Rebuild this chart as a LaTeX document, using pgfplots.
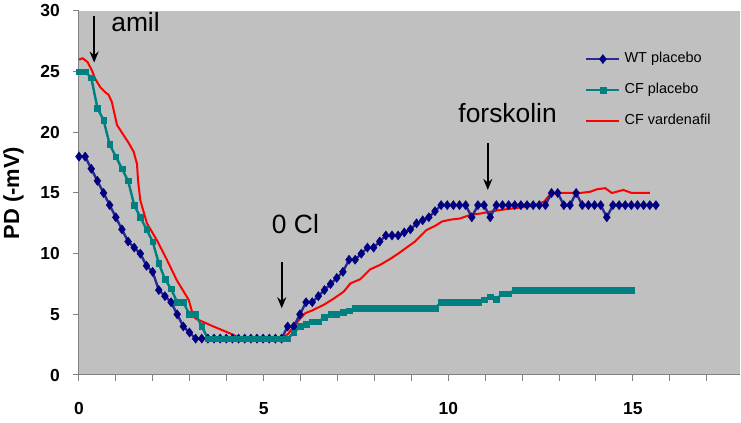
\documentclass[border=0pt]{standalone}
\usepackage{fontspec}
\setmainfont{Liberation Sans}
\usepackage{pgfplots}
\usepackage{pgfplotstable}
\pgfplotsset{compat=1.18}
\usetikzlibrary{arrows.meta}
\definecolor{bggray}{HTML}{C0C0C0}
\definecolor{navyc}{HTML}{000080}
\definecolor{navyl}{HTML}{2A2A90}
\definecolor{tealc}{HTML}{008080}
\definecolor{axgray}{HTML}{808080}

\pgfplotstableread{
x y
0.000 18
0.166 18
0.332 17
0.499 16
0.665 15
0.831 14
0.997 13
1.163 12
1.330 11
1.496 10.5
1.662 10
1.828 9
1.994 8.5
2.161 7
2.327 6.5
2.493 6
2.659 5
2.825 4
2.992 3.5
3.158 3
3.324 3
3.490 3
3.656 3
3.823 3
3.989 3
4.155 3
4.321 3
4.487 3
4.654 3
4.820 3
4.986 3
5.152 3
5.318 3
5.485 3
5.651 4
5.817 4
5.983 5
6.149 6
6.316 6
6.482 6.5
6.648 7
6.814 7.5
6.980 8
7.147 8.5
7.313 9.5
7.479 9.5
7.645 10
7.811 10.5
7.978 10.5
8.144 11
8.310 11.5
8.476 11.5
8.642 11.5
8.809 11.75
8.975 12
9.141 12.5
9.307 12.75
9.473 13
9.640 13.5
9.806 14
9.972 14
10.138 14
10.304 14
10.471 14
10.637 13
10.803 14
10.969 14
11.135 13
11.302 14
11.468 14
11.634 14
11.800 14
11.966 14
12.133 14
12.299 14
12.465 14
12.631 14
12.797 15
12.964 15
13.130 14
13.296 14
13.462 15
13.628 14
13.795 14
13.961 14
14.127 14
14.293 13
14.459 14
14.626 14
14.792 14
14.958 14
15.124 14
15.290 14
15.457 14
15.623 14
}\wtdata

\pgfplotstableread{
x y
0.000 25
0.166 25
0.332 24.5
0.499 22
0.665 21
0.831 19
0.997 18
1.163 17
1.330 16
1.496 14
1.662 13
1.828 12
1.994 11
2.161 9.2
2.327 7.9
2.493 7.1
2.659 6
2.825 6
2.992 5
3.158 5
3.324 4
3.490 3
3.656 3
3.823 3
3.989 3
4.155 3
4.321 3
4.487 3
4.654 3
4.820 3
4.986 3
5.152 3
5.318 3
5.485 3
5.651 3
5.817 3.5
5.983 4
6.149 4.2
6.316 4.4
6.482 4.4
6.648 4.75
6.814 5
6.980 5
7.147 5.2
7.313 5.3
7.479 5.5
7.645 5.5
7.811 5.5
7.978 5.5
8.144 5.5
8.310 5.5
8.476 5.5
8.642 5.5
8.809 5.5
8.975 5.5
9.141 5.5
9.307 5.5
9.473 5.5
9.640 5.5
9.806 6
9.972 6
10.138 6
10.304 6
10.471 6
10.637 6
10.803 6
10.969 6.2
11.135 6.45
11.302 6.25
11.468 6.7
11.634 6.7
11.800 7
11.966 7
12.133 7
12.299 7
12.465 7
12.631 7
12.797 7
12.964 7
13.130 7
13.296 7
13.462 7
13.628 7
13.795 7
13.961 7
14.127 7
14.293 7
14.459 7
14.626 7
14.792 7
14.958 7
}\cfpdata

\pgfplotstableread{
x y
0 26.0
0.1 26.1
0.23 25.8
0.35 25.1
0.44 24.4
0.58 23.7
0.71 23.3
0.8 23.1
0.89 22.5
1.03 20.6
1.2 19.8
1.34 19.15
1.48 18.4
1.57 17.4
1.6 16
1.66 14.4
1.84 12.5
2.11 11.1
2.38 9.5
2.65 7.8
2.97 6.2
3.1 4.8
3.19 4.6
3.64 4.0
4.19 3.3
4.37 3.0
5.0 3.0
5.49 3.0
5.67 3.4
5.81 4.0
5.99 4.65
6.13 5.1
6.3 5.3
6.62 5.77
6.9 6.3
7.17 6.87
7.35 7.55
7.62 7.9
7.88 8.7
8.15 9.07
8.42 9.55
8.69 10.1
8.96 10.7
9.1 11
9.23 11.4
9.41 11.95
9.65 12.3
9.83 12.65
10.05 12.8
10.32 12.9
10.6 13.2
10.86 13.3
11.13 13.46
11.4 13.6
11.67 13.7
11.94 13.8
12.3 13.95
12.6 14.3
12.76 14.9
13.0 15
13.56 15
13.84 15.1
14.02 15.3
14.25 15.4
14.43 15
14.74 15.25
14.97 15
15.46 15
}\cfvdata

\begin{document}
\begin{tikzpicture}
\begin{axis}[
  scale only axis, width=661bp, height=364bp,
  xmin=0, xmax=17.9, ymin=0, ymax=30,
  axis x line*=bottom, axis y line*=left,
  axis line style={draw=axgray, line width=1bp},
  axis background/.style={fill=bggray},
  xtick={0,5,10,15},
  minor xtick={1,2,3,4,6,7,8,9,11,12,13,14,16,17},
  ytick={0,5,10,15,20,25,30},
  tick align=outside, major tick length=6bp, minor tick length=6bp,
  every tick/.style={draw=axgray, line width=1bp},
  /pgf/number format/assume math mode=true,
  ticklabel style={font=\bfseries\fontsize{17.5}{17.5}\selectfont, inner sep=0pt},
  yticklabel style={anchor=east, xshift=-13bp},
  xticklabel style={anchor=north, yshift=-21bp},
  ylabel={PD (-mV)},
  ylabel style={font=\bfseries\fontsize{22}{22}\selectfont, at={(axis description cs:-0.099,0.5)}, anchor=center, inner sep=0pt},
  clip=false,
  legend cell align=left,
  legend style={draw=none, fill=none, at={(axis description cs:0.7655,0.887)}, anchor=north west,
    inner sep=0pt, row sep=17.5bp, column sep=4bp,
    font=\fontsize{14.5}{17}\selectfont,
    nodes={inner sep=0pt, text height=10.5bp, text depth=3bp}},
  legend image code/.code={\draw[mark repeat=2,mark phase=2,#1] plot coordinates {(0bp,0bp) (16.5bp,0bp) (33bp,0bp)};},
]
\addplot[red, line width=2bp, forget plot] table[x=x,y=y] {\cfvdata};
\addplot[navyl, line width=2.4bp, mark=diamond*, mark size=4.6bp, mark options={fill=navyc, draw=navyc, line width=0.4bp}] table[x=x,y=y] {\wtdata};
\addlegendentry{WT placebo}
\addplot[tealc, line width=2.4bp, mark=square*, mark size=2.8bp, mark options={fill=tealc, draw=tealc, line width=0.4bp}] table[x=x,y=y] {\cfpdata};
\addlegendentry{CF placebo}
\addlegendimage{red, line width=2bp}
\addlegendentry{CF vardenafil}

\draw[-{Stealth[length=11bp,width=9bp]}, line width=1.8bp] (axis cs:0.41,29.6) -- (axis cs:0.41,25.75);
\node[anchor=base west, inner sep=0pt, font=\fontsize{26.5}{26.5}\selectfont] at (axis cs:0.87,28.3) {amil};
\draw[-{Stealth[length=11bp,width=9bp]}, line width=1.8bp] (axis cs:5.49,9.34) -- (axis cs:5.49,5.5);
\node[anchor=base west, inner sep=0pt, font=\fontsize{26.5}{26.5}\selectfont] at (axis cs:5.22,11.68) {0 Cl};
\draw[-{Stealth[length=11bp,width=9bp]}, line width=1.8bp] (axis cs:11.07,19.1) -- (axis cs:11.07,15.25);
\node[anchor=base west, inner sep=0pt, font=\fontsize{26.5}{26.5}\selectfont] at (axis cs:10.27,20.8) {forskolin};
\end{axis}
\pgfresetboundingbox
\path[use as bounding box] (-79bp,-48bp) rectangle (662bp,375bp);
\end{tikzpicture}
\end{document}
